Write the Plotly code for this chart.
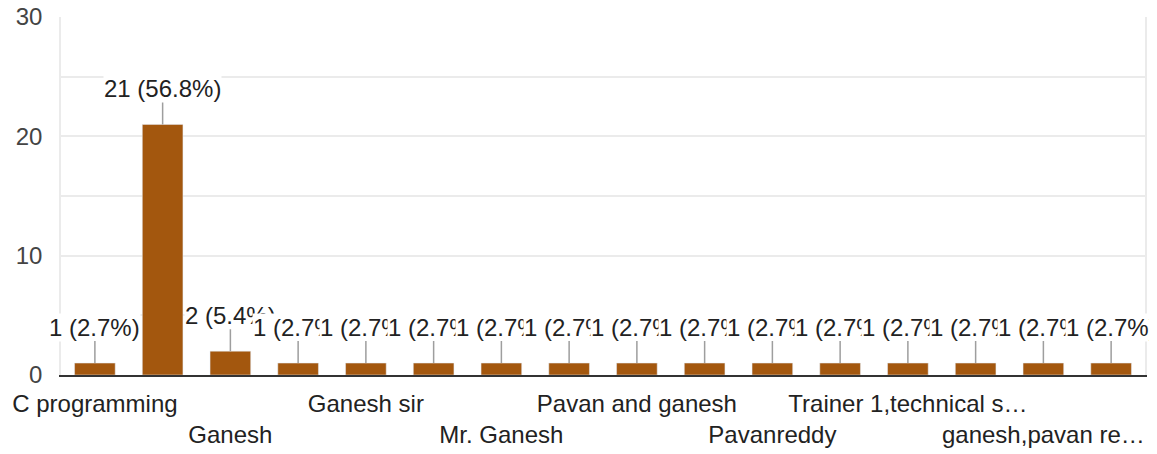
import plotly.graph_objects as go

categories = [
    "C programming", "Pavan", "Ganesh", "Pavan sir", "Ganesh sir", "Pavan Reddy",
    "Mr. Ganesh", "Ganesh and pavan", "Pavan and ganesh", "Mr. Pavan",
    "Pavanreddy", "Trainer 1", "Trainer 1,technical s…", "Both",
    "ganesh,pavan re…", "Pavan and Ganesh sir",
]
counts = [1, 21, 2, 1, 1, 1, 1, 1, 1, 1, 1, 1, 1, 1, 1, 1]
total = sum(counts)

# Google-style axis: only every other category gets a label, alternating rows
shown_idx = list(range(0, len(categories), 2))
shown_text = [categories[i] if k % 2 == 0 else "<br>" + categories[i]
              for k, i in enumerate(shown_idx)]

BAR = "#a3570e"
FONT = "Liberation Sans, Arial, sans-serif"

fig = go.Figure(go.Bar(
    x=list(range(len(categories))),
    y=counts,
    marker_color=BAR,
    hoverinfo="skip",
))

for i, v in enumerate(counts):
    fig.add_annotation(
        x=i, y=v,
        text=f"{v} ({v / total * 100:.1f}%)",
        showarrow=True, arrowhead=0, arrowwidth=1.5, arrowcolor="#9e9e9e",
        ax=0, ay=-36, standoff=0,
        bgcolor="white", borderpad=0,
        font={"family": FONT, "size": 24, "color": "#222222"},
    )

fig.update_layout(
    width=1149, height=454,
    margin={"l": 61, "r": 4, "t": 17, "b": 79, "autoexpand": False},
    paper_bgcolor="white", plot_bgcolor="white",
    bargap=0.4,
    showlegend=False,
    font={"family": FONT, "size": 24, "color": "#222222"},
)
fig.update_xaxes(
    range=[-0.5, len(categories) - 0.5],
    tickmode="array", tickvals=shown_idx, ticktext=shown_text,
    tickangle=0, automargin=False,
    ticks="", showgrid=False, zeroline=False,
    showline=True, linecolor="#333333", linewidth=2,
    tickfont={"size": 24, "color": "#222222"},
    ticklabelstandoff=6,
)
fig.update_yaxes(
    range=[0, 30], dtick=10, ticks="", automargin=False,
    showgrid=True, gridcolor="#ebebeb", gridwidth=1.5,
    minor={"dtick": 5, "showgrid": True, "gridcolor": "#ebebeb", "gridwidth": 1.5},
    zeroline=False, showline=True, mirror=True, linecolor="#ebebeb", linewidth=1.5,
    tickfont={"size": 24, "color": "#444444"},
    ticklabelstandoff=12, ticklabeloverflow="allow",
)

# drop the default 8px body margin so the figure sits at the window's corner
fig.write_html(
    "out.html",
    config={"displayModeBar": False},
    post_script="document.body.style.margin = '0';",
)
